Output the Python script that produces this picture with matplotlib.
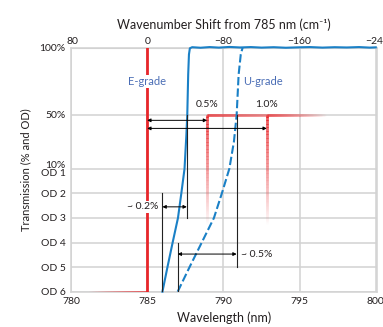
import numpy as np
import matplotlib
matplotlib.use('Agg')
import matplotlib.pyplot as plt
from matplotlib.collections import LineCollection
from matplotlib.colors import to_rgba

plt.rcParams['font.family'] = ['Lato', 'DejaVu Sans']
plt.rcParams['font.size'] = 7.5

#%% data

laser_wl = 785.0

# E-grade edge (solid) : wavelength (nm) vs transmission (%)
e_wl = [786.0, 786.33, 786.67, 787.02, 787.24, 787.45, 787.57, 787.63, 787.69, 787.74, 787.8,
        787.95, 788.5, 789.1, 789.7, 790.4, 791.1, 791.8, 792.5, 793.3, 794.1, 794.9,
        795.7, 796.5, 797.3, 798.1, 798.9, 799.6, 800.0]
e_tr = [1e-4, 1e-3, 1e-2, 0.1, 1, 10, 35, 50, 80, 95, 99.6,
        100.4, 100.0, 100.5, 100.1, 100.6, 100.2, 100.5, 100.1, 100.4, 100.0, 100.3,
        100.5, 100.1, 100.4, 100.2, 100.5, 100.1, 100.3]

# U-grade edge (dashed)
u_wl = [787.0, 787.78, 788.58, 789.38, 789.9, 790.39, 790.69, 790.87, 791.0, 791.14, 791.26]
u_tr = [1e-4, 1e-3, 1e-2, 0.1, 1, 10, 30, 50, 80, 95, 100]

# edge steps at 0.5% and 1.0% from the laser line
step_wl = [788.93, 792.85]
step_lbl = ['0.5%', '1.0%']
step_arrow_tr = [46, 40]

# steepness markers (OD 2 -> OD 6 span and OD 4 -> OD 6 span)
e_lo_wl, e_hi_wl = 786.0, 787.6
u_lo_wl, u_hi_wl = 787.0, 790.87

ytick_tr = [1e-4, 1e-3, 1e-2, 1e-1, 1, 10, 50, 100]
ytick_lbl = ['OD 6', 'OD 5', 'OD 4', 'OD 3', 'OD 2', '10%\nOD 1', '50%', '100%']
top_ticks = [80, 0, -80, -160, -240]

#%% custom y scale: log (OD) below 10 %, linear 10 - 100 %

K = 4.92

def y_fwd(t):
    t = np.asarray(t, dtype=float)
    lo = 6 + np.log10(np.clip(t, 1e-12, None) / 100)
    hi = 5 + (t - 10) / 90 * K
    return np.where(t >= 10, hi, lo)

def y_inv(p):
    p = np.asarray(p, dtype=float)
    lo = 100 * 10 ** (np.clip(p, -20, 20) - 6)
    hi = 10 + (p - 5) / K * 90
    return np.where(p >= 5, hi, lo)

def od_to_tr(od):
    return 10 ** (2 - od)

red = '#e8262a'
blue = '#1a80c6'
txt = '#231f20'
grid_c = '#d2d2d2'

def fade_line(ax, x0, x1, y0, y1, a0, a1, n=80, lw=2.0, z=3):
    # colour fade along a straight line (subdivided in screen space)
    if x0 == x1:
        ps = np.linspace(y_fwd(y0), y_fwd(y1), n)
        ys = y_inv(ps)
        xs = np.full(n, x0)
    else:
        xs = np.linspace(x0, x1, n)
        ys = np.full(n, y0)
    pts = np.column_stack([xs, ys]).reshape(-1, 1, 2)
    segs = np.concatenate([pts[:-1], pts[1:]], axis=1)
    cols = [to_rgba(red, a) for a in np.linspace(a0, a1, n - 1)]
    ax.add_collection(LineCollection(segs, colors=cols, linewidths=lw, zorder=z, capstyle='butt'))

#%% figure

fig = plt.figure(figsize=(3.83, 3.27), dpi=100)
ax = fig.add_axes([0.1854, 0.108, 0.7989, 0.746])
ax.set_yscale('function', functions=(y_fwd, y_inv))
ax.set_xlim(780, 800.08)
ax.set_ylim(1e-4, 100)

for s in ax.spines.values():
    s.set_color(grid_c)
    s.set_linewidth(1.1)

ax.set_yticks(ytick_tr)
ax.set_yticklabels(ytick_lbl, linespacing=0.95)
ax.set_xticks([780, 785, 790, 795, 800])
ax.tick_params(length=0, colors=txt, labelsize=7.5, pad=4)
ax.yaxis.set_minor_locator(matplotlib.ticker.NullLocator())
ax.grid(True, color=grid_c, lw=1.1, zorder=0)
ax.set_axisbelow(True)
ax.set_xlabel('Wavelength (nm)', color=txt, fontsize=9, labelpad=4)
ax.set_ylabel('Transmission (% and OD)', color=txt, fontsize=8, labelpad=6)

# top axis: wavenumber shift
sec = ax.secondary_xaxis('top', functions=(lambda w: 1e7 / np.asarray(w, float) - 1e7 / laser_wl,
                                            lambda s: 1e7 / (np.asarray(s, float) + 1e7 / laser_wl)))
sec.set_xticks(top_ticks)
sec.tick_params(length=0, colors=txt, labelsize=7.5, pad=1)
sec.spines['top'].set_color(grid_c)
sec.set_xlabel('Wavenumber Shift from 785 nm (cm\u207b\u00b9)', color=txt, fontsize=9, labelpad=6)

# laser line and its fading foot
ax.plot([laser_wl, laser_wl], [1e-4, 100], color=red, lw=2.0, zorder=3)
fade_line(ax, 781.1, laser_wl, 1e-4, 1e-4, 0.0, 1.0, lw=2.0)

# edge steps
fade_line(ax, step_wl[0], step_wl[1], 50, 50, 1.0, 0.55)
fade_line(ax, step_wl[1], 796.8, 50, 50, 1.0, 0.0)
for w in step_wl:
    fade_line(ax, w, w, 50, od_to_tr(3.3), 1.0, 0.0)

for w, l in zip(step_wl, step_lbl):
    ax.text(w, 58, l, ha='center', va='center', color=txt, fontsize=7.5, zorder=6)

for w, t in zip(step_wl, step_arrow_tr):
    ax.annotate('', xy=(w, t), xytext=(laser_wl, t),
                arrowprops=dict(arrowstyle='<|-|>', color='black', lw=0.7,
                                mutation_scale=5, shrinkA=0, shrinkB=0), zorder=6)

# filter curves
ax.plot(e_wl, e_tr, color=blue, lw=1.5, zorder=4, clip_on=False)
ax.plot(u_wl, u_tr, color=blue, lw=1.5, ls=(0, (4, 1.5)), zorder=4)

# steepness markers
mk = dict(color='#222222', lw=0.8, zorder=5)
ax.plot([e_hi_wl, e_hi_wl], [50, od_to_tr(3)], **mk)
ax.plot([e_lo_wl, e_lo_wl], [od_to_tr(2), 1e-4], **mk)
ax.plot([u_hi_wl, u_hi_wl], [50, od_to_tr(5)], **mk)
ax.plot([u_lo_wl, u_lo_wl], [od_to_tr(4), 1e-4], **mk)

arr = dict(arrowstyle='<|-|>', color='black', lw=0.7, mutation_scale=5, shrinkA=0, shrinkB=0)
ax.annotate('', xy=(e_hi_wl, od_to_tr(2.55)), xytext=(e_lo_wl, od_to_tr(2.55)), arrowprops=arr, zorder=6)
ax.annotate('', xy=(u_hi_wl, od_to_tr(4.47)), xytext=(u_lo_wl, od_to_tr(4.47)), arrowprops=arr, zorder=6)

wb = dict(facecolor='white', edgecolor='none', pad=1.0)
ax.text(785.75, od_to_tr(2.55), '~ 0.2%', ha='right', va='center', color=txt, fontsize=7.5, bbox=wb, zorder=7)
ax.text(791.15, od_to_tr(4.47), '~ 0.5%', ha='left', va='center', color=txt, fontsize=7.5, zorder=7)

ax.text(laser_wl, 75, 'E-grade', ha='center', va='center', color='#4a6db5', fontsize=8, bbox=wb, zorder=7)
ax.text(792.6, 75, 'U-grade', ha='center', va='center', color='#4a6db5', fontsize=8, bbox=wb, zorder=7)

plt.savefig('out.png', dpi=100)
